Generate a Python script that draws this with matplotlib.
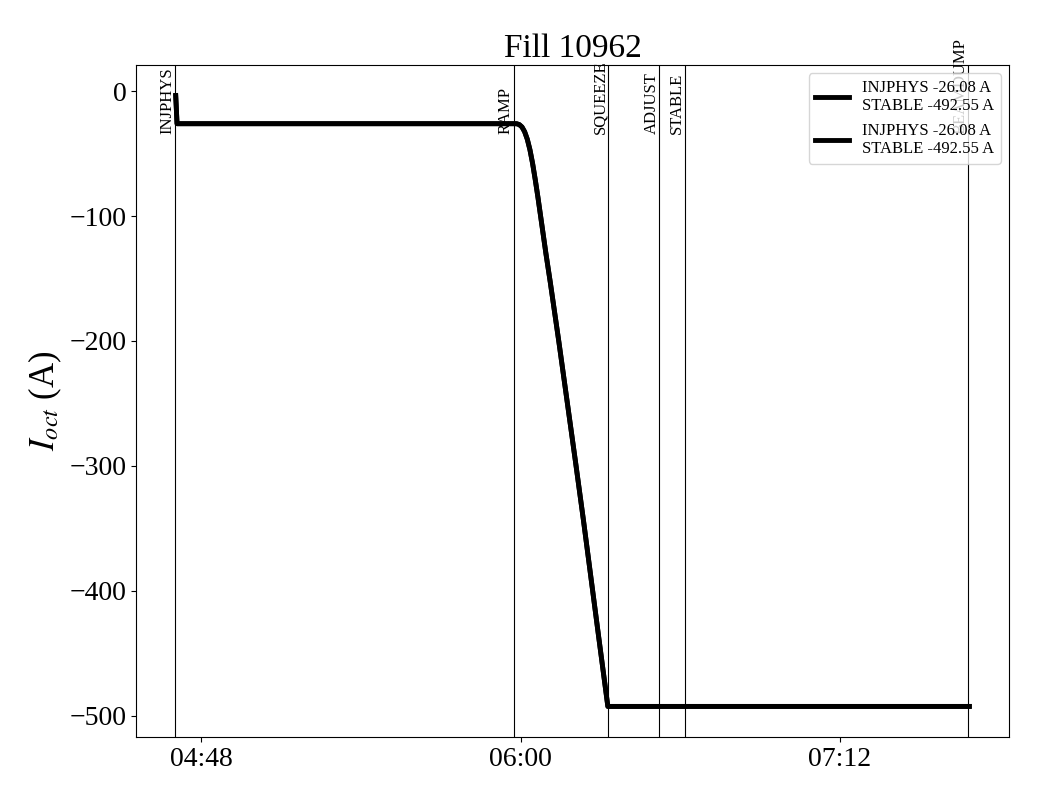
import pandas as pd
import matplotlib
matplotlib.use("Agg")
import matplotlib.pyplot as plt
import matplotlib.dates as mdates

plt.rcParams['font.family'] = ['Liberation Serif', 'DejaVu Serif']
plt.rcParams['mathtext.fontset'] = 'stix'

day = "2025-08-01 "

# octupole current samples (time, current in A)
times = ["04:42:12", "04:42:30", "05:58:24", "05:59:06", "05:59:42", "06:00:18",
         "06:00:54", "06:01:30", "06:02:06", "06:02:42", "06:03:18", "06:03:54",
         "06:04:30", "06:05:06", "06:05:42", "06:06:41", "06:08:38", "06:12:23",
         "06:14:11", "06:17:34", "06:19:40", "07:41:12"]
current_b1 = [-3.5, -26.08, -26.08, -26.1, -26.8, -28.7,
              -32.5, -38.5, -47.0, -58.0, -71.0, -85.0,
              -100.0, -115.0, -130.0, -153.0, -201.0, -297.0,
              -344.0, -436.0, -492.55, -492.55]
current_b2 = list(current_b1)

# beam modes
mode_names = ["INJPHYS", "RAMP", "SQUEEZE", "ADJUST", "STABLE", "BEAMDUMP"]
mode_times = ["04:42:06", "05:58:24", "06:19:48", "06:31:18", "06:37:06", "07:41:00"]

tick_labels = ["04:48", "06:00", "07:12"]

legend_label = "INJPHYS -26.08 A\nSTABLE -492.55 A"

t = pd.to_datetime([day + s for s in times])
mt = pd.to_datetime([day + s for s in mode_times])
ticks = pd.to_datetime([day + s for s in tick_labels])

fig = plt.figure(figsize=(10.4, 8), dpi=100)
ax = fig.add_axes([0.1308, 0.0788, 0.8394, 0.8400])

ax.plot(t, current_b1, color="black", lw=3.5, label=legend_label)
ax.plot(t, current_b2, color="black", lw=3.5, label=legend_label)

for name, x in zip(mode_names, mt):
    ax.axvline(x, color="black", lw=0.8)
    ax.text(x, -34, name, rotation=90, ha="right", va="bottom", fontsize=12)

ax.set_xticks(ticks)
ax.xaxis.set_major_formatter(mdates.DateFormatter("%H:%M"))
ax.tick_params(labelsize=20)
ax.set_ylabel(r"$I_{oct}$ (A)", fontsize=25)
ax.set_title("Fill 10962", fontsize=24)
ax.legend(loc="upper right", fontsize=12)

fig.savefig("out.png", dpi=100)
